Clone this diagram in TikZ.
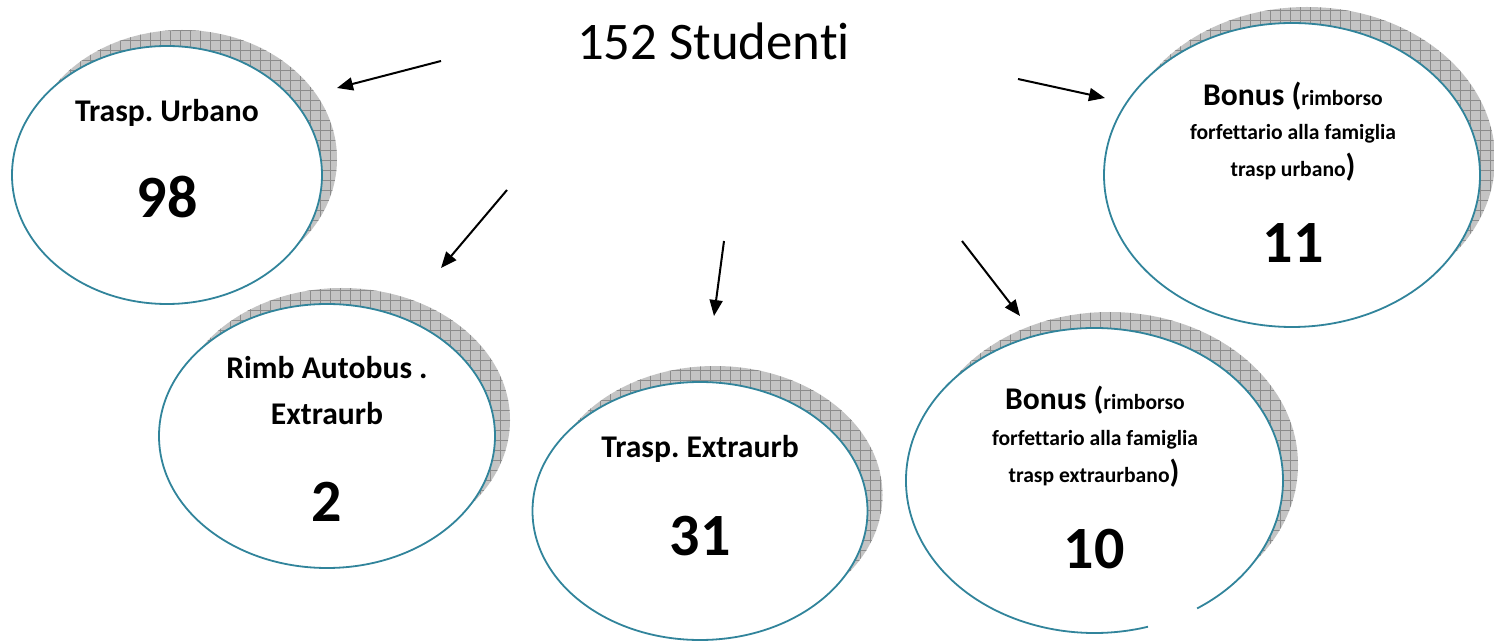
\documentclass[tikz,border=0pt]{standalone}
\usepackage{fontspec}
\setmainfont{Carlito}[Ligatures={NoCommon}]
\usepackage[svgnames]{xcolor}
\usetikzlibrary{positioning, arrows.meta, calc, shapes.geometric, shadows, patterns.meta}
\frenchspacing

\definecolor{rim}{RGB}{49,132,155}
\definecolor{shadowgray}{RGB}{196,196,196}
\definecolor{gridgray}{RGB}{140,140,140}

\def\pix{0.5pt}
\def\smalltxt#1{{\fontsize{10.8}{13}\selectfont #1}}

\tikzset{
    bubble/.style={ellipse, draw=rim, line width=0.9pt, fill=white, inner sep=0pt,
        general shadow={shadow xshift=7.5pt, shadow yshift=8pt, fill=shadowgray},
        general shadow={shadow xshift=7.5pt, shadow yshift=8pt,
            pattern={Hatch[angle=0, distance=5pt, line width=0.5pt]}, pattern color=gridgray}},
    link/.style={-{Triangle[length=8pt, width=6.5pt]}, line width=1pt},
    caption/.style={anchor=base, inner sep=0pt, font=\bfseries\fontsize{15.8}{18}\selectfont},
    count/.style={anchor=base, inner sep=0pt, font=\bfseries\fontsize{30}{36}\selectfont}
}

\begin{document}
\begin{tikzpicture}[x=\pix, y=-\pix]
    \useasboundingbox (0,0) rectangle (1494,641);

    % bubbles
    \node[bubble, minimum width=310*\pix, minimum height=258*\pix] (urb) at (167,175) {};
    \node[bubble, minimum width=336*\pix, minimum height=264*\pix] (rimb) at (327,436) {};
    \node[bubble, minimum width=335*\pix, minimum height=258*\pix] (extra) at (700,511) {};
    \node[bubble, draw=none, minimum width=377*\pix, minimum height=305*\pix] (bex) at (1094.5,480.5) {};
    \node[bubble, minimum width=376*\pix, minimum height=304*\pix] (bur) at (1292,175) {};

    % border of bex, open at the bottom
    \draw[rim, line width=0.9pt]
        ([shift={(51.33pt,-63.95pt)}]bex.center)
        arc[start angle=-57, end angle=286.5, x radius=94.25pt, y radius=76.25pt];

    % title
    \node[anchor=base, inner sep=0pt, font=\fontsize{26.4}{31}\selectfont] (title) at (713.5,60) {152 Studenti};

    % texts
    \foreach \nm/\x/\y/\sty/\txt in {
        urbT/167/122/caption/{Trasp. Urbano},
        urbN/167/218/count/98,
        rimbT/327/379/caption/{Rimb Autobus .},
        rimbU/327/425/caption/Extraurb,
        rimbN/327/522/count/2,
        extraT/700/458/caption/{Trasp. Extraurb},
        extraN/700/555/count/31,
        bexT/1095/410/caption/{Bonus (\smalltxt{rimborso}},
        bexU/1095/445/caption/{\smalltxt{forfettario alla famiglia}},
        bexV/1094/483/caption/{\smalltxt{trasp extraurbano})},
        bexN/1094/568/count/10,
        burT/1293/106/caption/{Bonus (\smalltxt{rimborso}},
        burU/1293/140/caption/{\smalltxt{forfettario alla famiglia}},
        burV/1293/177/caption/{\smalltxt{trasp urbano})},
        burN/1293/263/count/11}{

        \node[\sty] (\nm) at (\x,\y) {\txt};
    }

    % arrows
    \coordinate (s1) at (441,61);   \coordinate (e1) at (337,88);
    \coordinate (s2) at (1018,79);  \coordinate (e2) at (1105,98);
    \coordinate (s3) at (507,190);  \coordinate (e3) at (441,268);
    \coordinate (s4) at (724,241);  \coordinate (e4) at (714,316);
    \coordinate (s5) at (962,241);  \coordinate (e5) at (1020,316);
    \foreach \a/\b in {s1/e1, s2/e2, s3/e3, s4/e4, s5/e5}
    {
        \draw[link] (\a) -- (\b);
    }
\end{tikzpicture}
\end{document}
